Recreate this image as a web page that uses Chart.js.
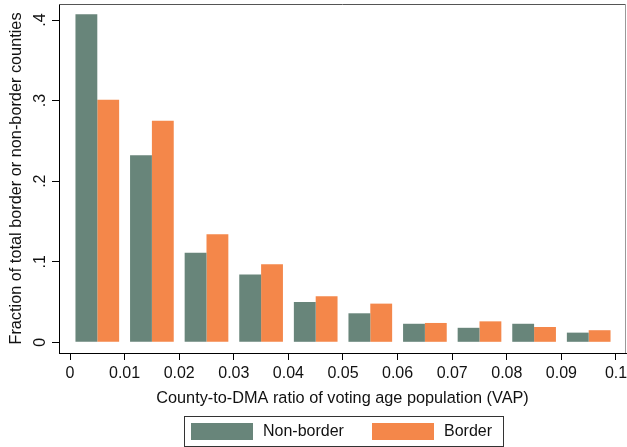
<!DOCTYPE html>
<html>
<head>
<meta charset="utf-8">
<script src="https://cdn.jsdelivr.net/npm/chart.js@4/dist/chart.umd.min.js"></script>
<style>
  html, body { margin: 0; padding: 0; background: #fff; }
  #wrap { width: 627px; height: 447px; }
</style>
</head>
<body>
<div id="wrap"><canvas id="c" width="627" height="447"></canvas></div>
<script>
// Histogram bins: centre of each 0.01-wide bin of the county-to-DMA VAP ratio
const binCenters = [0.005, 0.015, 0.025, 0.035, 0.045, 0.055, 0.065, 0.075, 0.085, 0.095];
// Fraction of counties falling in each bin
const nonBorder = [0.407, 0.232, 0.111, 0.084, 0.050, 0.036, 0.023, 0.018, 0.023, 0.012];
const border    = [0.301, 0.275, 0.134, 0.097, 0.057, 0.048, 0.024, 0.026, 0.019, 0.015];

const xTicks = [0, 0.01, 0.02, 0.03, 0.04, 0.05, 0.06, 0.07, 0.08, 0.09, 0.1];
const yTicks = [0, 0.1, 0.2, 0.3, 0.4];
const xTickLabels = ['0', '0.01', '0.02', '0.03', '0.04', '0.05', '0.06', '0.07', '0.08', '0.09', '0.1'];
const yTickLabels = ['0', '.1', '.2', '.3', '.4'];

const seriesNames  = ['Non-border', 'Border'];
const seriesColors = ['#68857A', '#F4874A'];

const FONT = 'Liberation Sans, Arial, Helvetica, sans-serif';
const TEXT = '#111';

const toPoints = vals => vals.map((v, i) => ({ x: binCenters[i], y: v }));

// Frame, rotated y tick labels and boxed legend
const decorations = {
  id: 'decorations',
  afterDraw(chart) {
    const ctx = chart.ctx;
    const a = chart.chartArea;
    ctx.save();
    // top and right edges of the plot region
    ctx.lineWidth = 1;
    ctx.strokeStyle = '#555';
    ctx.beginPath();
    ctx.moveTo(a.left, a.top + 0.5);
    ctx.lineTo(a.right, a.top + 0.5);
    ctx.stroke();
    ctx.strokeStyle = '#999';
    ctx.beginPath();
    ctx.moveTo(a.right - 0.5, a.top);
    ctx.lineTo(a.right - 0.5, a.bottom);
    ctx.stroke();

    // y tick labels, rotated to read upward
    const ys = chart.scales.y;
    ctx.fillStyle = TEXT;
    ctx.font = '16px ' + FONT;
    ctx.textAlign = 'center';
    ctx.textBaseline = 'middle';
    yTicks.forEach((v, i) => {
      const py = ys.getPixelForValue(v);
      ctx.save();
      ctx.translate(41, py);
      ctx.rotate(-Math.PI / 2);
      ctx.fillText(yTickLabels[i], 0, 0);
      ctx.restore();
    });

    // legend
    const box = { left: 184.5, top: 416.5, right: 503.5, bottom: 446.5 };
    ctx.strokeStyle = '#333';
    ctx.lineWidth = 1;
    ctx.strokeRect(box.left, box.top, box.right - box.left, box.bottom - box.top);
    const swatchX = [191, 372];
    ctx.textAlign = 'left';
    ctx.textBaseline = 'middle';
    chart.data.datasets.forEach((ds, i) => {
      ctx.fillStyle = ds.backgroundColor;
      ctx.fillRect(swatchX[i], 423, 62, 17);
      ctx.fillStyle = TEXT;
      ctx.fillText(ds.label, swatchX[i] + 72, 432);
    });
    ctx.restore();
  }
};

new Chart(document.getElementById('c'), {
  type: 'bar',
  data: {
    datasets: [
      { label: seriesNames[0], data: toPoints(nonBorder), backgroundColor: seriesColors[0], borderWidth: 0 },
      { label: seriesNames[1], data: toPoints(border), backgroundColor: seriesColors[1], borderWidth: 0 }
    ]
  },
  options: {
    responsive: false,
    devicePixelRatio: 1,
    animation: false,
    categoryPercentage: 0.8,
    barPercentage: 1.0,
    layout: { padding: { top: 4, right: 1, left: 0, bottom: 0 } },
    plugins: { legend: { display: false }, tooltip: { enabled: false } },
    scales: {
      x: {
        type: 'linear',
        offset: false,
        min: -0.002015,
        max: 0.101832,
        afterBuildTicks: s => { s.ticks = xTicks.map(v => ({ value: v })); },
        afterFit: s => { s.height = 94; s.paddingLeft = 0; s.paddingRight = 0; },
        grid: { offset: false, drawOnChartArea: false, drawTicks: true, tickLength: 7, color: '#000', lineWidth: 1 },
        border: { display: true, color: '#000', width: 1 },
        ticks: {
          autoSkip: false, maxRotation: 0, minRotation: 0, padding: 4,
          color: TEXT, font: { family: FONT, size: 16 },
          callback: (v, i) => xTickLabels[i]
        },
        title: {
          display: true, text: 'County-to-DMA ratio of voting age population (VAP)',
          color: TEXT, font: { family: FONT, size: 16.3 }, padding: { top: 0, bottom: 39 }
        }
      },
      y: {
        type: 'linear',
        min: -0.01328,
        max: 0.41986,
        afterBuildTicks: s => { s.ticks = yTicks.map(v => ({ value: v })); },
        afterFit: s => { s.width = 59; s.paddingTop = 0; s.paddingBottom = 0; },
        grid: { drawOnChartArea: false, drawTicks: true, tickLength: 7, color: '#000', lineWidth: 1 },
        border: { display: true, color: '#000', width: 1 },
        ticks: { color: 'rgba(0,0,0,0)', font: { family: FONT, size: 16 }, callback: (v, i) => yTickLabels[i] },
        title: {
          display: true, text: 'Fraction of total border or non-border counties',
          color: TEXT, font: { family: FONT, size: 16.3 }, padding: { top: 7, bottom: 0 }
        }
      }
    }
  },
  plugins: [decorations]
});
</script>
</body>
</html>
